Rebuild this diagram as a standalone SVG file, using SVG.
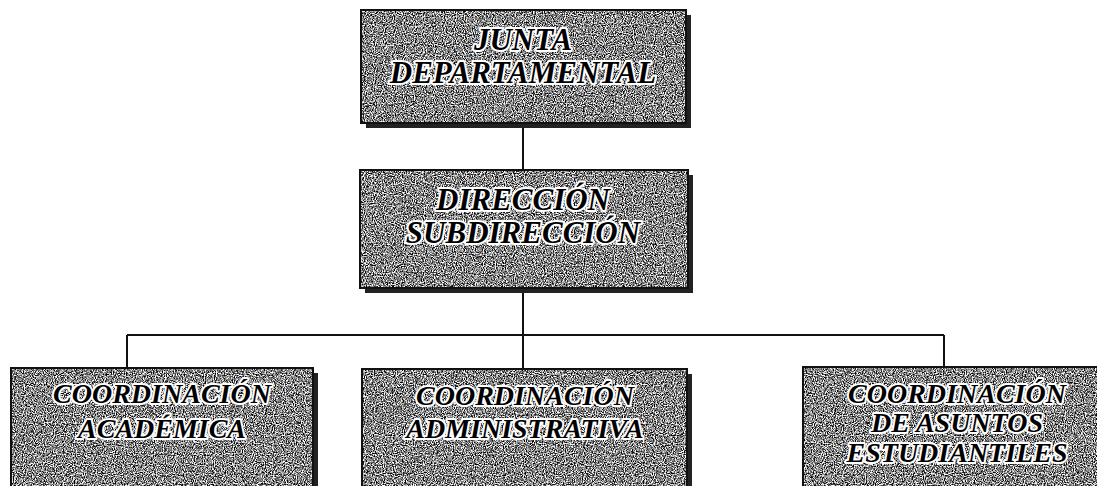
<svg xmlns="http://www.w3.org/2000/svg" width="1097" height="486" viewBox="0 0 1097 486">
<defs>
<filter id="grain" x="0" y="0" width="100%" height="100%" filterUnits="objectBoundingBox" color-interpolation-filters="sRGB">
<feTurbulence type="fractalNoise" baseFrequency="0.9" numOctaves="2" seed="3" result="n"/>
<feColorMatrix in="n" type="matrix" values="2.6 0 0 0 -0.78  2.6 0 0 0 -0.78  2.6 0 0 0 -0.78  0 0 0 0 1" result="g"/>
<feComposite in="g" in2="SourceAlpha" operator="in"/>
</filter>
<style>
.shadow{fill:#222}
.box{fill:#808080;filter:url(#grain)}
.frame{fill:none;stroke:#111;stroke-width:2}
.t{font-family:"Liberation Serif","Times New Roman",serif;font-weight:bold;font-style:italic;fill:#000;stroke:#fff;stroke-width:4;stroke-linejoin:round;paint-order:stroke;text-anchor:middle}
.big{font-size:31px}
.sm{font-size:28px}
.ln{stroke:#111;stroke-width:2;fill:none}
</style>
</defs>
<g id="connectors">
<line class="ln" x1="523" y1="123" x2="523" y2="170"/>
<line class="ln" x1="523" y1="288" x2="523" y2="369"/>
<line class="ln" x1="127" y1="335" x2="944" y2="335"/>
<line class="ln" x1="127" y1="335" x2="127" y2="368"/>
<line class="ln" x1="944" y1="335" x2="944" y2="367"/>
</g>
<g id="junta">
<rect class="shadow" x="366" y="15" width="325" height="113"/>
<rect class="box" x="361" y="10" width="325" height="113"/>
<rect class="frame" x="361" y="10" width="325" height="113"/>
<text class="t big" x="523" y="50">JUNTA</text>
<text class="t big" x="523" y="83">DEPARTAMENTAL</text>
</g>
<g id="direccion">
<rect class="shadow" x="365" y="175" width="328" height="118"/>
<rect class="box" x="360" y="170" width="328" height="118"/>
<rect class="frame" x="360" y="170" width="328" height="118"/>
<text class="t big" x="523" y="210">DIRECCIÓN</text>
<text class="t big" x="523" y="243">SUBDIRECCIÓN</text>
</g>
<g id="academica">
<rect class="shadow" x="16" y="373" width="302" height="125"/>
<rect class="box" x="11" y="368" width="302" height="125"/>
<rect class="frame" x="11" y="368" width="302" height="125"/>
<text class="t sm" x="162" y="403">COORDINACIÓN</text>
<text class="t sm" x="162" y="438">ACADÉMICA</text>
</g>
<g id="administrativa">
<rect class="shadow" x="367" y="374" width="325" height="125"/>
<rect class="box" x="362" y="369" width="325" height="125"/>
<rect class="frame" x="362" y="369" width="325" height="125"/>
<text class="t sm" x="525" y="405">COORDINACIÓN</text>
<text class="t sm" x="525" y="438">ADMINISTRATIVA</text>
</g>
<g id="estudiantiles">
<rect class="shadow" x="808" y="372" width="300" height="125"/>
<rect class="box" x="803" y="367" width="300" height="125"/>
<rect class="frame" x="803" y="367" width="300" height="125"/>
<text class="t sm" x="957" y="403">COORDINACIÓN</text>
<text class="t sm" x="957" y="432">DE ASUNTOS</text>
<text class="t sm" x="957" y="462">ESTUDIANTILES</text>
</g>
</svg>
